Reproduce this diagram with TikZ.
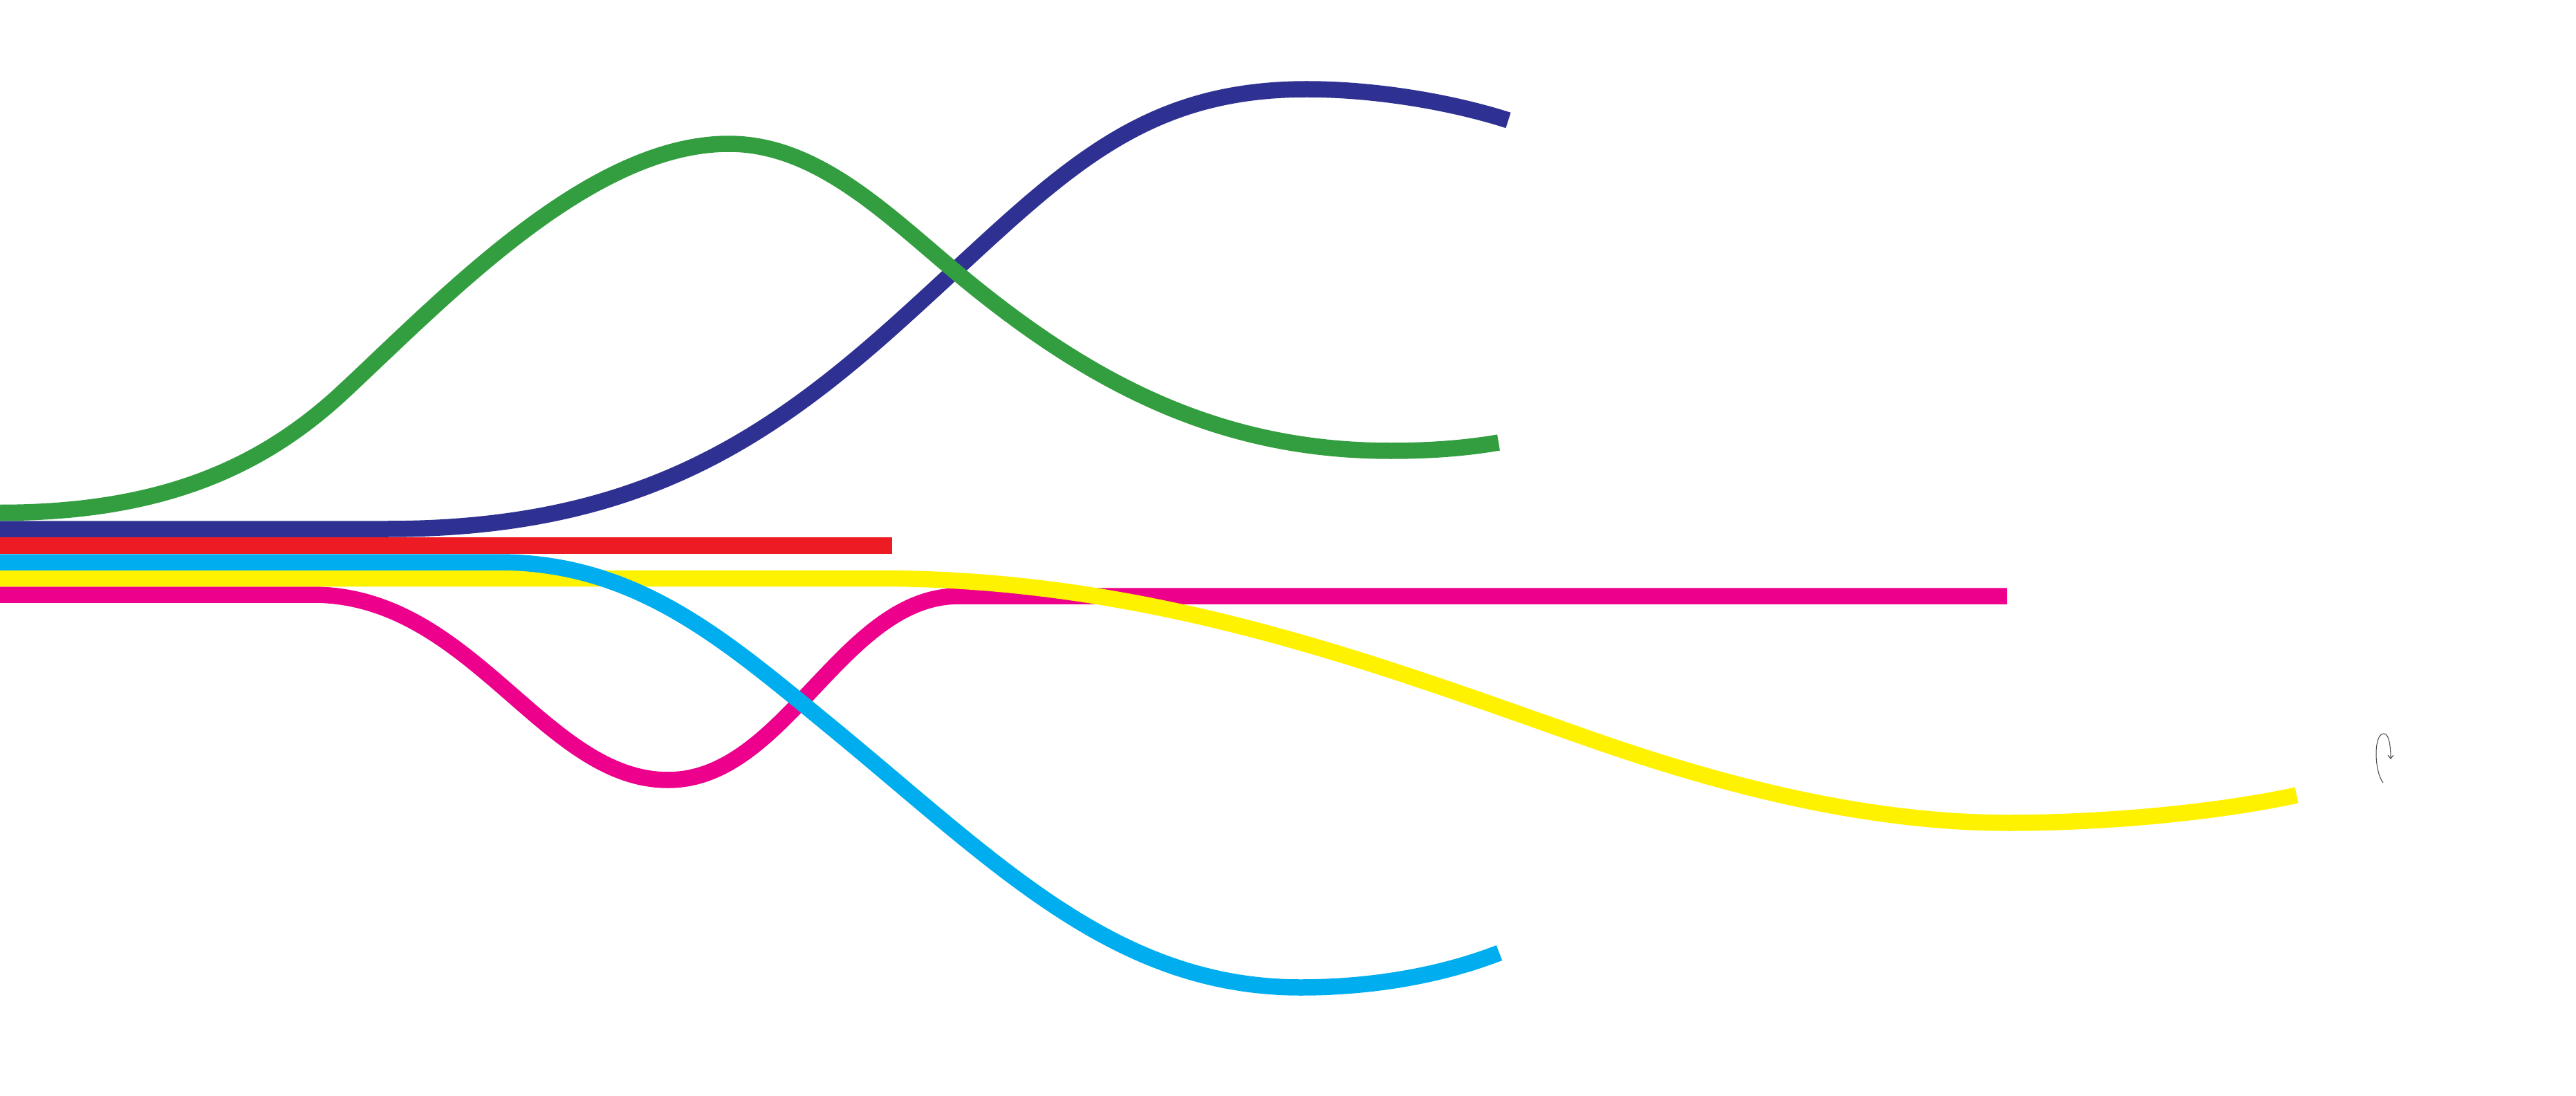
\documentclass[tikz,border=0pt]{standalone}
\usetikzlibrary{arrows.meta}

\definecolor{lineGreen}{RGB}{51,158,64}
\definecolor{lineBlue}{RGB}{46,49,146}
\definecolor{lineRed}{RGB}{237,28,36}
\definecolor{lineCyan}{RGB}{0,174,239}
\definecolor{lineYellow}{RGB}{255,242,0}
\definecolor{lineMagenta}{RGB}{236,0,140}

\begin{document}
\begin{tikzpicture}[x=1cm, y=-1cm, band/.style={line width=0.235cm, line cap=butt}]
    \useasboundingbox (0,0) rectangle (37.25,15.85);

    % Magenta: dip, then back to the band
    \draw[band, lineMagenta] (0,8.60) -- (4.52,8.60)
        .. controls (6.82,8.60) and (7.86,11.28) .. (9.66,11.28)
        .. controls (11.36,11.28) and (12.17,8.62) .. (13.87,8.62)
        -- (29.02,8.62);

    % Yellow: long slow descent
    \draw[band, lineYellow] (0,8.365) -- (12.72,8.365)
        .. controls (16.72,8.365) and (20.00,9.64) .. (23.00,10.69)
        .. controls (25.00,11.39) and (27.05,11.90) .. (29.05,11.90)
        .. controls (30.40,11.90) and (32.00,11.76) .. (33.21,11.50);

    % Cyan: falls to the bottom
    \draw[band, lineCyan] (0,8.13) -- (7.21,8.13)
        .. controls (9.21,8.13) and (10.50,9.27) .. (12.00,10.50)
        .. controls (14.40,12.47) and (16.11,14.28) .. (18.81,14.28)
        .. controls (19.80,14.28) and (20.80,14.12) .. (21.68,13.78);

    % Red: straight
    \draw[band, lineRed] (0,7.89) -- (12.90,7.89);

    % Blue: rises to the top
    \draw[band, lineBlue] (0,7.65) -- (5.60,7.65)
        .. controls (9.10,7.65) and (11.00,6.45) .. (13.00,4.65)
        .. controls (15.20,2.67) and (16.30,1.29) .. (18.90,1.29)
        .. controls (19.90,1.29) and (21.00,1.48) .. (21.81,1.74);

    % Green: hill, then down again
    \draw[band, lineGreen] (0,7.415)
        .. controls (2.30,7.415) and (3.77,6.78) .. (4.97,5.66)
        .. controls (6.47,4.26) and (8.54,2.08) .. (10.54,2.08)
        .. controls (11.74,2.08) and (12.70,2.98) .. (13.70,3.83)
        .. controls (15.70,5.53) and (17.61,6.52) .. (20.11,6.52)
        .. controls (20.70,6.52) and (21.20,6.48) .. (21.67,6.40);

    % small rotate mark
    \draw[gray!60!black, line width=0.3pt, -{Straight Barb[length=0.05cm, width=0.08cm]}]
        (34.46,11.32) .. controls (34.33,11.15) and (34.32,10.61) .. (34.47,10.61)
        .. controls (34.55,10.61) and (34.57,10.80) .. (34.57,10.98);
\end{tikzpicture}
\end{document}
